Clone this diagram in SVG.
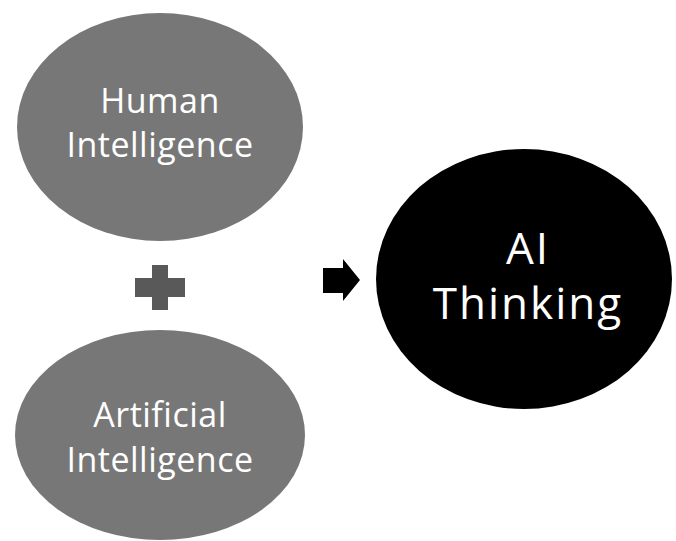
<svg xmlns="http://www.w3.org/2000/svg" width="676" height="541" viewBox="0 0 676 541">
<style>
.gray{fill:#777777}
.lbl{font-family:"Open Sans","Liberation Sans",sans-serif;fill:#ffffff;text-anchor:middle}
.s{font-size:34px;letter-spacing:0.5px}
.b{font-size:44px;letter-spacing:2px}
</style>
<rect width="676" height="541" fill="#ffffff"/>
<g id="human">
<ellipse class="gray" cx="160" cy="127" rx="143" ry="114"/>
<text class="lbl s" x="160" y="113">Human</text>
<text class="lbl s" x="160" y="157">Intelligence</text>
</g>
<g id="artificial">
<ellipse class="gray" cx="160" cy="435" rx="145" ry="105"/>
<text class="lbl s" x="160" y="427">Artificial</text>
<text class="lbl s" x="160" y="472">Intelligence</text>
</g>
<g id="ai-thinking">
<ellipse cx="524" cy="279" rx="148" ry="130" fill="#000000"/>
<text class="lbl b" x="528" y="264">AI</text>
<text class="lbl b" x="528" y="319">Thinking</text>
</g>
<g id="connectors">
<path d="M152 265h16v13h17v19h-17v13h-16v-13h-17v-19h17z" fill="#595959"/>
<path d="M323 268h20v-9l17 21l-17 21v-8h-20z" fill="#000000"/>
</g>
</svg>
